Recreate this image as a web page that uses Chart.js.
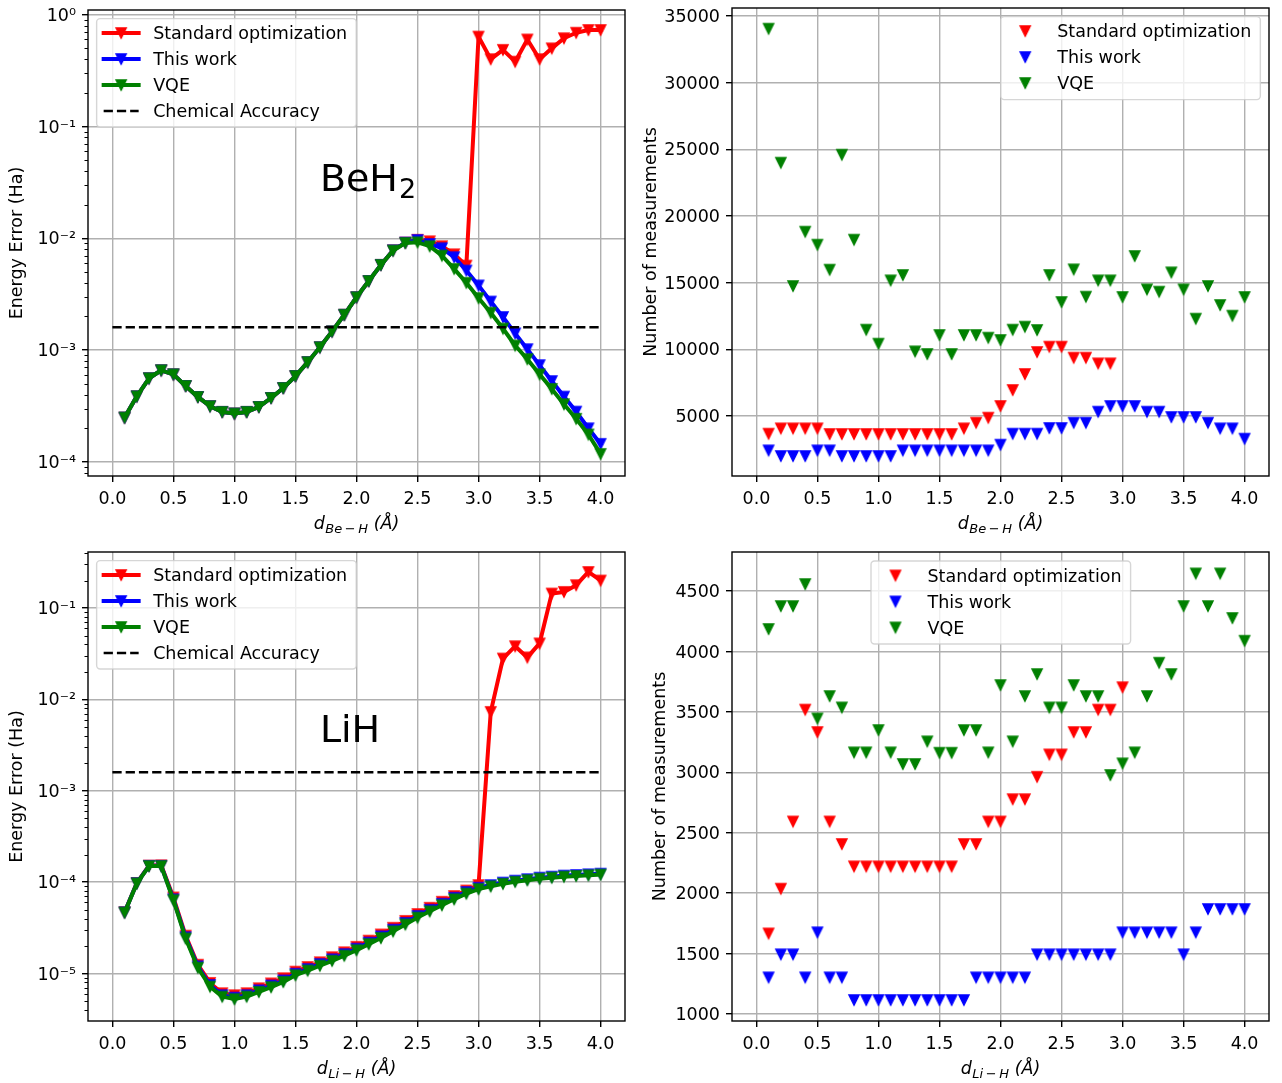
<!DOCTYPE html>
<html>
<head>
<meta charset="utf-8">
<title>BeH2 and LiH: energy error and number of measurements</title>
<script src="https://cdn.jsdelivr.net/npm/chart.js@4/dist/chart.umd.min.js"></script>
<style>
  html, body { margin: 0; padding: 0; background: #ffffff; }
  #figure { position: relative; width: 1282px; height: 1083px; overflow: hidden; background: #ffffff; }
  #figure canvas { position: absolute; }
</style>
</head>
<body>
<div id="figure">
  <canvas id="beh2Error" width="641" height="541" style="left:0px;top:0px"></canvas>
  <canvas id="beh2Count" width="641" height="541" style="left:641px;top:0px"></canvas>
  <canvas id="lihError" width="641" height="542" style="left:0px;top:541px"></canvas>
  <canvas id="lihCount" width="641" height="542" style="left:641px;top:541px"></canvas>
</div>
<script>
// ---------------------------------------------------------------------------
// Data
// ---------------------------------------------------------------------------
// Bond lengths (Å)
const distances = [0.1, 0.2, 0.3, 0.4, 0.5, 0.6, 0.7, 0.8, 0.9, 1.0,
                   1.1, 1.2, 1.3, 1.4, 1.5, 1.6, 1.7, 1.8, 1.9, 2.0,
                   2.1, 2.2, 2.3, 2.4, 2.5, 2.6, 2.7, 2.8, 2.9, 3.0,
                   3.1, 3.2, 3.3, 3.4, 3.5, 3.6, 3.7, 3.8, 3.9, 4.0];

const seriesNames = ['Standard optimization', 'This work', 'VQE'];
const chemAccuracyName = 'Chemical Accuracy';
const chemAccuracy = 1.6e-3;          // Ha
const chemAccuracySpan = [0.0, 4.0];  // Å

// BeH2 energy error (Ha)
const beh2ErrorStandard = [2.49e-4, 3.86e-4, 5.6e-4, 6.6e-4, 6.07e-4, 4.78e-4, 3.81e-4, 3.15e-4, 2.8e-4, 2.71e-4,
                           2.8e-4, 3.1e-4, 3.73e-4, 4.58e-4, 5.86e-4, 7.8e-4, 1.06e-3, 1.47e-3, 2.07e-3, 2.97e-3,
                           4.15e-3, 5.78e-3, 7.8e-3, 9.15e-3, 9.7e-3, 9.4e-3, 8.5e-3, 7.2e-3, 5.7e-3, 0.637,
                           0.40, 0.485, 0.38, 0.60, 0.40, 0.50, 0.616, 0.69, 0.73, 0.73];
const beh2ErrorThisWork = [2.49e-4, 3.86e-4, 5.6e-4, 6.6e-4, 6.07e-4, 4.78e-4, 3.81e-4, 3.15e-4, 2.8e-4, 2.71e-4,
                           2.8e-4, 3.1e-4, 3.73e-4, 4.58e-4, 5.86e-4, 7.8e-4, 1.06e-3, 1.47e-3, 2.07e-3, 2.97e-3,
                           4.15e-3, 5.78e-3, 7.8e-3, 9.15e-3, 9.65e-3, 8.9e-3, 8.15e-3, 6.78e-3, 5.15e-3, 3.79e-3,
                           2.72e-3, 1.98e-3, 1.41e-3, 1.02e-3, 7.34e-4, 5.29e-4, 3.84e-4, 2.82e-4, 2.0e-4, 1.45e-4];
const beh2ErrorVQE      = [2.49e-4, 3.86e-4, 5.6e-4, 6.6e-4, 6.07e-4, 4.78e-4, 3.81e-4, 3.15e-4, 2.8e-4, 2.71e-4,
                           2.8e-4, 3.1e-4, 3.73e-4, 4.58e-4, 5.86e-4, 7.8e-4, 1.06e-3, 1.47e-3, 2.07e-3, 2.97e-3,
                           4.15e-3, 5.78e-3, 7.76e-3, 9.08e-3, 9.2e-3, 8.5e-3, 7.0e-3, 5.33e-3, 4.0e-3, 2.92e-3,
                           2.16e-3, 1.56e-3, 1.1e-3, 8.3e-4, 6.07e-4, 4.5e-4, 3.28e-4, 2.43e-4, 1.76e-4, 1.18e-4];

// BeH2 number of measurements (standard optimization has no value beyond 2.9 Å)
const beh2CountStandard = [3675, 4075, 4075, 4075, 4075, 3650, 3650, 3650, 3650, 3650,
                           3650, 3650, 3650, 3650, 3650, 3650, 4075, 4500, 4875, 5750,
                           6950, 8150, 9800, 10200, 10200, 9375, 9375, 8950, 8950, null,
                           null, null, null, null, null, null, null, null, null, null];
const beh2CountThisWork = [2425, 2000, 2000, 2000, 2425, 2425, 2000, 2000, 2000, 2000,
                           2000, 2425, 2425, 2425, 2425, 2425, 2425, 2425, 2425, 2850,
                           3675, 3675, 3675, 4100, 4100, 4500, 4500, 5325, 5750, 5750,
                           5750, 5325, 5325, 4925, 4925, 4925, 4500, 4075, 4075, 3300];
const beh2CountVQE      = [34050, 24000, 14750, 18825, 17850, 15975, 24600, 18225, 11475, 10425,
                           15175, 15575, 9850, 9650, 11075, 9650, 11075, 11075, 10875, 10700,
                           11475, 11700, 11450, 15575, 13550, 16000, 13950, 15175, 15175, 13925,
                           17000, 14500, 14325, 15775, 14500, 12300, 14750, 13325, 12525, 13925];

// LiH energy error (Ha)
const lihErrorStandard = [4.7e-5, 9.8e-5, 1.52e-4, 1.53e-4, 6.8e-5, 2.6e-5, 1.25e-5, 7.9e-6, 6.1e-6, 5.8e-6,
                          6.1e-6, 6.9e-6, 7.8e-6, 8.9e-6, 1.05e-5, 1.18e-5, 1.33e-5, 1.51e-5, 1.71e-5, 1.96e-5,
                          2.29e-5, 2.68e-5, 3.17e-5, 3.77e-5, 4.48e-5, 5.25e-5, 6.1e-5, 7.05e-5, 8.1e-5, 9.3e-5,
                          7.3e-3, 2.8e-2, 3.82e-2, 2.88e-2, 4.1e-2, 0.144, 0.15, 0.178, 0.248, 0.20];
const lihErrorThisWork = [4.68e-5, 9.75e-5, 1.51e-4, 1.51e-4, 6.5e-5, 2.5e-5, 1.2e-5, 7.5e-6, 5.8e-6, 5.45e-6,
                          5.8e-6, 6.55e-6, 7.4e-6, 8.4e-6, 9.95e-6, 1.12e-5, 1.27e-5, 1.43e-5, 1.63e-5, 1.87e-5,
                          2.18e-5, 2.55e-5, 3.02e-5, 3.58e-5, 4.26e-5, 4.98e-5, 5.8e-5, 6.75e-5, 7.8e-5, 8.7e-5,
                          9.3e-5, 9.9e-5, 1.04e-4, 1.08e-4, 1.12e-4, 1.15e-4, 1.18e-4, 1.2e-4, 1.22e-4, 1.24e-4];
const lihErrorVQE      = [4.65e-5, 9.7e-5, 1.5e-4, 1.5e-4, 6.35e-5, 2.42e-5, 1.16e-5, 7.2e-6, 5.6e-6, 5.25e-6,
                          5.6e-6, 6.3e-6, 7.1e-6, 8.1e-6, 9.6e-6, 1.08e-5, 1.22e-5, 1.38e-5, 1.57e-5, 1.8e-5,
                          2.1e-5, 2.45e-5, 2.9e-5, 3.45e-5, 4.1e-5, 4.8e-5, 5.6e-5, 6.5e-5, 7.5e-5, 8.4e-5,
                          9.0e-5, 9.6e-5, 1.01e-4, 1.05e-4, 1.09e-4, 1.12e-4, 1.15e-4, 1.17e-4, 1.19e-4, 1.21e-4];

// LiH number of measurements (standard optimization has no value beyond 3.0 Å)
const lihCountStandard = [1667, 2037, 2593, 3519, 3333, 2593, 2407, 2222, 2222, 2222,
                          2222, 2222, 2222, 2222, 2222, 2222, 2407, 2407, 2593, 2593,
                          2778, 2778, 2963, 3148, 3148, 3333, 3333, 3519, 3519, 3704,
                          null, null, null, null, null, null, null, null, null, null];
const lihCountThisWork = [1303, 1494, 1494, 1303, 1676, 1303, 1303, 1116, 1116, 1116,
                          1116, 1116, 1116, 1116, 1116, 1116, 1116, 1303, 1303, 1303,
                          1303, 1303, 1494, 1494, 1494, 1494, 1494, 1494, 1494, 1676,
                          1676, 1676, 1676, 1676, 1494, 1676, 1869, 1869, 1869, 1869];
const lihCountVQE      = [4186, 4376, 4376, 4558, 3446, 3631, 3537, 3165, 3165, 3350,
                          3165, 3069, 3069, 3256, 3162, 3162, 3350, 3350, 3165, 3722,
                          3256, 3631, 3813, 3537, 3537, 3722, 3631, 3631, 2978, 3074,
                          3165, 3631, 3907, 3813, 4376, 4646, 4376, 4646, 4277, 4089];

// Ticks
const xTickValues = [0, 0.5, 1, 1.5, 2, 2.5, 3, 3.5, 4];
const xTickLabels = ['0.0', '0.5', '1.0', '1.5', '2.0', '2.5', '3.0', '3.5', '4.0'];
const beh2ErrorTicks = [1e-4, 1e-3, 1e-2, 1e-1, 1];
const beh2ErrorTickLabels = ['10⁻⁴', '10⁻³', '10⁻²', '10⁻¹', '10⁰'];
const lihErrorTicks = [1e-5, 1e-4, 1e-3, 1e-2, 1e-1];
const lihErrorTickLabels = ['10⁻⁵', '10⁻⁴', '10⁻³', '10⁻²', '10⁻¹'];
const beh2CountTicks = [5000, 10000, 15000, 20000, 25000, 30000, 35000];
const beh2CountTickLabels = ['5000', '10000', '15000', '20000', '25000', '30000', '35000'];
const lihCountTicks = [1000, 1500, 2000, 2500, 3000, 3500, 4000, 4500];
const lihCountTickLabels = ['1000', '1500', '2000', '2500', '3000', '3500', '4000', '4500'];

// Axis view limits
const xView = [-0.2, 4.2];
const beh2ErrorView = [Math.pow(10, -4.126), Math.pow(10, 0.042)];
const lihErrorView = [Math.pow(10, -5.519), Math.pow(10, -0.387)];
const beh2CountView = [500, 35600];
const lihCountView = [942, 4823];

// ---------------------------------------------------------------------------
// Style
// ---------------------------------------------------------------------------
const FONT_FAMILY = "'DejaVu Sans', sans-serif";
const FONT_SIZE = 17.5;
const RED = '#ff0000', BLUE = '#0000ff', GREEN = '#008000';
const GRID = '#b0b0b0';
Chart.defaults.font.family = FONT_FAMILY;
Chart.defaults.font.size = FONT_SIZE;
Chart.defaults.color = '#000000';

// Downward-pointing triangle marker
function triangleMarker(color) {
  const c = document.createElement('canvas');
  c.width = 16; c.height = 16;
  const g = c.getContext('2d');
  const s = 10, cx = 8, cy = 8;
  g.beginPath();
  g.moveTo(cx - s / 2, cy - s / 2);
  g.lineTo(cx + s / 2, cy - s / 2);
  g.lineTo(cx, cy + s / 2);
  g.closePath();
  g.fillStyle = color; g.fill();
  g.lineWidth = 1.5; g.lineJoin = 'miter'; g.strokeStyle = color; g.stroke();
  return c;
}
const markers = { red: triangleMarker(RED), blue: triangleMarker(BLUE), green: triangleMarker(GREEN) };

const tickFont = { family: FONT_FAMILY, size: FONT_SIZE };
const gridStyle = { color: GRID, lineWidth: 1.4, drawTicks: true, tickLength: 6, tickColor: '#000000', tickWidth: 1.4 };

function points(values) {
  return distances.map((d, i) => ({ x: d, y: values[i] }));
}

function lineSeries(label, values, color, mk, order) {
  return {
    label, data: points(values), order,
    borderColor: color, backgroundColor: color, borderWidth: 4,
    borderJoinStyle: 'round', borderCapStyle: 'square', tension: 0, fill: false,
    pointStyle: mk, pointRadius: 6, pointHoverRadius: 6
  };
}

function scatterSeries(label, values, mk, order) {
  return {
    label, data: points(values), order, showLine: false,
    pointStyle: mk, pointRadius: 6, pointHoverRadius: 6
  };
}

function errorDatasets(std, ours, vqe) {
  return [
    lineSeries(seriesNames[0], std, RED, markers.red, 2),
    lineSeries(seriesNames[1], ours, BLUE, markers.blue, 1),
    lineSeries(seriesNames[2], vqe, GREEN, markers.green, 0),
    {
      label: chemAccuracyName, order: -1,
      data: chemAccuracySpan.map(x => ({ x, y: chemAccuracy })),
      borderColor: '#000000', borderWidth: 2.5, borderDash: [9.25, 4], borderCapStyle: 'butt',
      pointRadius: 0, fill: false
    }
  ];
}

function countDatasets(std, ours, vqe) {
  return [
    scatterSeries(seriesNames[0], std, markers.red, 2),
    scatterSeries(seriesNames[1], ours, markers.blue, 1),
    scatterSeries(seriesNames[2], vqe, markers.green, 0)
  ];
}

function xAxisOptions(height) {
  return {
    type: 'linear', min: xView[0], max: xView[1], bounds: 'data',
    afterBuildTicks: s => { s.ticks = xTickValues.map(v => ({ value: v })); },
    afterFit: s => { s.height = height; s.paddingLeft = 0; s.paddingRight = 0; },
    ticks: { callback: (v, i) => xTickLabels[i], color: '#000000', font: tickFont, padding: 6.5,
             autoSkip: false, maxRotation: 0, minRotation: 0 },
    grid: gridStyle, border: { display: false }
  };
}

function yAxisOptions(kind, view, ticks, labels, width) {
  return {
    type: kind, min: view[0], max: view[1], bounds: 'data',
    afterBuildTicks: s => { s.ticks = ticks.map(v => ({ value: v })); },
    afterFit: s => { s.width = width; s.paddingTop = 0; s.paddingBottom = 0; },
    ticks: { callback: (v, i) => labels[i], color: '#000000', font: tickFont, padding: 6, labelOffset: 1.5,
             autoSkip: false, maxRotation: 0, minRotation: 0 },
    grid: gridStyle, border: { display: false }
  };
}

// ---------------------------------------------------------------------------
// Decorations: frame, minor log ticks, axis titles, legend, molecule label
// ---------------------------------------------------------------------------
function roundRect(ctx, x, y, w, h, r) {
  ctx.beginPath();
  ctx.moveTo(x + r, y);
  ctx.lineTo(x + w - r, y);
  ctx.arcTo(x + w, y, x + w, y + r, r);
  ctx.lineTo(x + w, y + h - r);
  ctx.arcTo(x + w, y + h, x + w - r, y + h, r);
  ctx.lineTo(x + r, y + h);
  ctx.arcTo(x, y + h, x, y + h - r, r);
  ctx.lineTo(x, y + r);
  ctx.arcTo(x, y, x + r, y, r);
  ctx.closePath();
}

function drawMinorTicks(ctx, chart) {
  const y = chart.scales.y, left = chart.chartArea.left;
  const lo = Math.floor(Math.log10(y.min)), hi = Math.ceil(Math.log10(y.max));
  ctx.strokeStyle = '#000000'; ctx.lineWidth = 1.0; ctx.setLineDash([]);
  for (let d = lo; d < hi; d++) {
    for (let m = 2; m <= 9; m++) {
      const v = m * Math.pow(10, d);
      if (v < y.min || v > y.max) continue;
      const py = Math.round(y.getPixelForValue(v)) + 0.5;
      ctx.beginPath(); ctx.moveTo(left - 3.5, py); ctx.lineTo(left, py); ctx.stroke();
    }
  }
}

function drawLegend(ctx, a, lg) {
  const left = lg.fromRight !== undefined ? a.right - lg.fromRight - lg.width : a.left + lg.fromLeft;
  const top = a.top + lg.fromTop;
  roundRect(ctx, left, top, lg.width, lg.height, 3.5);
  ctx.setLineDash([]);
  ctx.fillStyle = 'rgba(255,255,255,0.8)'; ctx.fill();
  ctx.lineWidth = 1.4; ctx.strokeStyle = 'rgba(204,204,204,0.8)'; ctx.stroke();
  lg.entries.forEach((e, i) => {
    const y = top + 14.4 + 26 * i;
    if (e.kind === 'line') {
      ctx.setLineDash([]); ctx.lineCap = 'square';
      ctx.strokeStyle = e.color; ctx.lineWidth = 4;
      ctx.beginPath(); ctx.moveTo(left + 7, y); ctx.lineTo(left + 42, y); ctx.stroke();
    } else if (e.kind === 'dash') {
      ctx.setLineDash([9.25, 4]); ctx.lineCap = 'butt';
      ctx.strokeStyle = '#000000'; ctx.lineWidth = 2.5;
      ctx.beginPath(); ctx.moveTo(left + 7, y); ctx.lineTo(left + 42, y); ctx.stroke();
      ctx.setLineDash([]);
    }
    if (e.marker) ctx.drawImage(e.marker, left + 24.5 - e.marker.width / 2, y - e.marker.height / 2);
    ctx.fillStyle = '#000000';
    ctx.font = FONT_SIZE + 'px ' + FONT_FAMILY;
    ctx.textAlign = 'left'; ctx.textBaseline = 'alphabetic';
    ctx.fillText(e.label, left + 56.5, y + 6.2);
  });
}

// Text made of runs with their own size and vertical shift (for subscripts)
function drawRuns(ctx, runs, x, baseline, centered) {
  ctx.textAlign = 'left'; ctx.textBaseline = 'alphabetic';
  let total = 0;
  runs.forEach(r => { ctx.font = r.font; r.w = ctx.measureText(r.text).width; total += r.w + (r.gap || 0); });
  let cx = centered ? x - total / 2 : x;
  runs.forEach(r => { ctx.font = r.font; ctx.fillText(r.text, cx, baseline + (r.dy || 0)); cx += r.w + (r.gap || 0); });
}

function drawXTitle(ctx, a, sub) {
  ctx.fillStyle = '#000000';
  const main = 'italic ' + FONT_SIZE + 'px ' + FONT_FAMILY;
  const small = 'italic 13px ' + FONT_FAMILY;
  drawRuns(ctx, [
    { text: 'd', font: main, gap: 0.5 },
    { text: sub, font: small, dy: 3.5, gap: 0 },
    { text: ' (Å)', font: main }
  ], (a.left + a.right) / 2, a.bottom + 53, true);
}

function drawYTitle(ctx, a, t) {
  ctx.save();
  ctx.fillStyle = '#000000';
  ctx.translate(t.x, (a.top + a.bottom) / 2);
  ctx.rotate(-Math.PI / 2);
  ctx.font = FONT_SIZE + 'px ' + FONT_FAMILY;
  ctx.textAlign = 'center'; ctx.textBaseline = 'alphabetic';
  ctx.fillText(t.text, 0, 0);
  ctx.restore();
}

function drawNote(ctx, chart, n) {
  const a = chart.chartArea;
  const x = chart.scales.x.getPixelForValue(n.xValue);
  ctx.fillStyle = '#000000';
  const runs = [{ text: n.main, font: '38px ' + FONT_FAMILY, gap: 1 }];
  if (n.sub) runs.push({ text: n.sub, font: '27px ' + FONT_FAMILY, dy: 7.5 });
  drawRuns(ctx, runs, x, a.top + n.baseline, false);
}

function decorations(spec) {
  return {
    id: 'decorations',
    afterDraw(chart) {
      const ctx = chart.ctx, a = chart.chartArea;
      ctx.save();
      if (spec.minorTicks) drawMinorTicks(ctx, chart);
      ctx.setLineDash([]);
      ctx.strokeStyle = '#000000'; ctx.lineWidth = 1.4;
      ctx.strokeRect(a.left, a.top, a.right - a.left, a.bottom - a.top);
      if (spec.note) drawNote(ctx, chart, spec.note);
      drawLegend(ctx, a, spec.legend);
      drawXTitle(ctx, a, spec.xSub);
      drawYTitle(ctx, a, spec.yTitle);
      ctx.restore();
    }
  };
}

// ---------------------------------------------------------------------------
// Panels
// ---------------------------------------------------------------------------
function buildPanel(id, canvasBox, area, type, datasets, yAxis, spec) {
  const pad = {
    left: 0,
    top: area.top - canvasBox.top,
    right: canvasBox.left + canvasBox.w - area.right,
    bottom: 0
  };
  return new Chart(document.getElementById(id), {
    type,
    data: { datasets },
    options: {
      responsive: false, maintainAspectRatio: false, animation: false, devicePixelRatio: 1, events: [],
      layout: { padding: pad },
      plugins: { legend: { display: false }, tooltip: { enabled: false }, title: { display: false } },
      scales: {
        x: xAxisOptions(canvasBox.top + canvasBox.h - area.bottom),
        y: yAxis(area.left - canvasBox.left)
      }
    },
    plugins: [decorations(spec)]
  });
}

const lineLegend = [
  { label: seriesNames[0], kind: 'line', color: RED, marker: markers.red },
  { label: seriesNames[1], kind: 'line', color: BLUE, marker: markers.blue },
  { label: seriesNames[2], kind: 'line', color: GREEN, marker: markers.green },
  { label: chemAccuracyName, kind: 'dash' }
];
const markerLegend = [
  { label: seriesNames[0], kind: 'marker', marker: markers.red },
  { label: seriesNames[1], kind: 'marker', marker: markers.blue },
  { label: seriesNames[2], kind: 'marker', marker: markers.green }
];

buildPanel('beh2Error', { left: 0, top: 0, w: 641, h: 541 }, { left: 88, top: 8, right: 625, bottom: 476 },
  'line', errorDatasets(beh2ErrorStandard, beh2ErrorThisWork, beh2ErrorVQE),
  w => yAxisOptions('logarithmic', beh2ErrorView, beh2ErrorTicks, beh2ErrorTickLabels, w),
  { minorTicks: true, xSub: 'Be\u2009\u2212\u2009H', yTitle: { text: 'Energy Error (Ha)', x: 22 },
    note: { main: 'BeH', sub: '2', xValue: 1.7, baseline: 180.5 },
    legend: { fromLeft: 8.65, fromTop: 8.6, width: 259.6, height: 108.4, entries: lineLegend } });

buildPanel('beh2Count', { left: 641, top: 0, w: 641, h: 541 }, { left: 732, top: 8, right: 1269, bottom: 476 },
  'scatter', countDatasets(beh2CountStandard, beh2CountThisWork, beh2CountVQE),
  w => yAxisOptions('linear', beh2CountView, beh2CountTicks, beh2CountTickLabels, w),
  { minorTicks: false, xSub: 'Be\u2009\u2212\u2009H', yTitle: { text: 'Number of measurements', x: 14.6 },
    legend: { fromRight: 8.65, fromTop: 8.6, width: 259.6, height: 83, entries: markerLegend } });

buildPanel('lihError', { left: 0, top: 541, w: 641, h: 542 }, { left: 88, top: 552, right: 625, bottom: 1021 },
  'line', errorDatasets(lihErrorStandard, lihErrorThisWork, lihErrorVQE),
  w => yAxisOptions('logarithmic', lihErrorView, lihErrorTicks, lihErrorTickLabels, w),
  { minorTicks: true, xSub: 'Li\u2009\u2212\u2009H', yTitle: { text: 'Energy Error (Ha)', x: 22 },
    note: { main: 'LiH', xValue: 1.7, baseline: 189.8 },
    legend: { fromLeft: 8.65, fromTop: 8.6, width: 259.6, height: 108.4, entries: lineLegend } });

buildPanel('lihCount', { left: 641, top: 541, w: 641, h: 542 }, { left: 732, top: 552, right: 1269, bottom: 1021 },
  'scatter', countDatasets(lihCountStandard, lihCountThisWork, lihCountVQE),
  w => yAxisOptions('linear', lihCountView, lihCountTicks, lihCountTickLabels, w),
  { minorTicks: false, xSub: 'Li\u2009\u2212\u2009H', yTitle: { text: 'Number of measurements', x: 24 },
    legend: { fromLeft: 139, fromTop: 9, width: 259.6, height: 83, entries: markerLegend } });
</script>
</body>
</html>
